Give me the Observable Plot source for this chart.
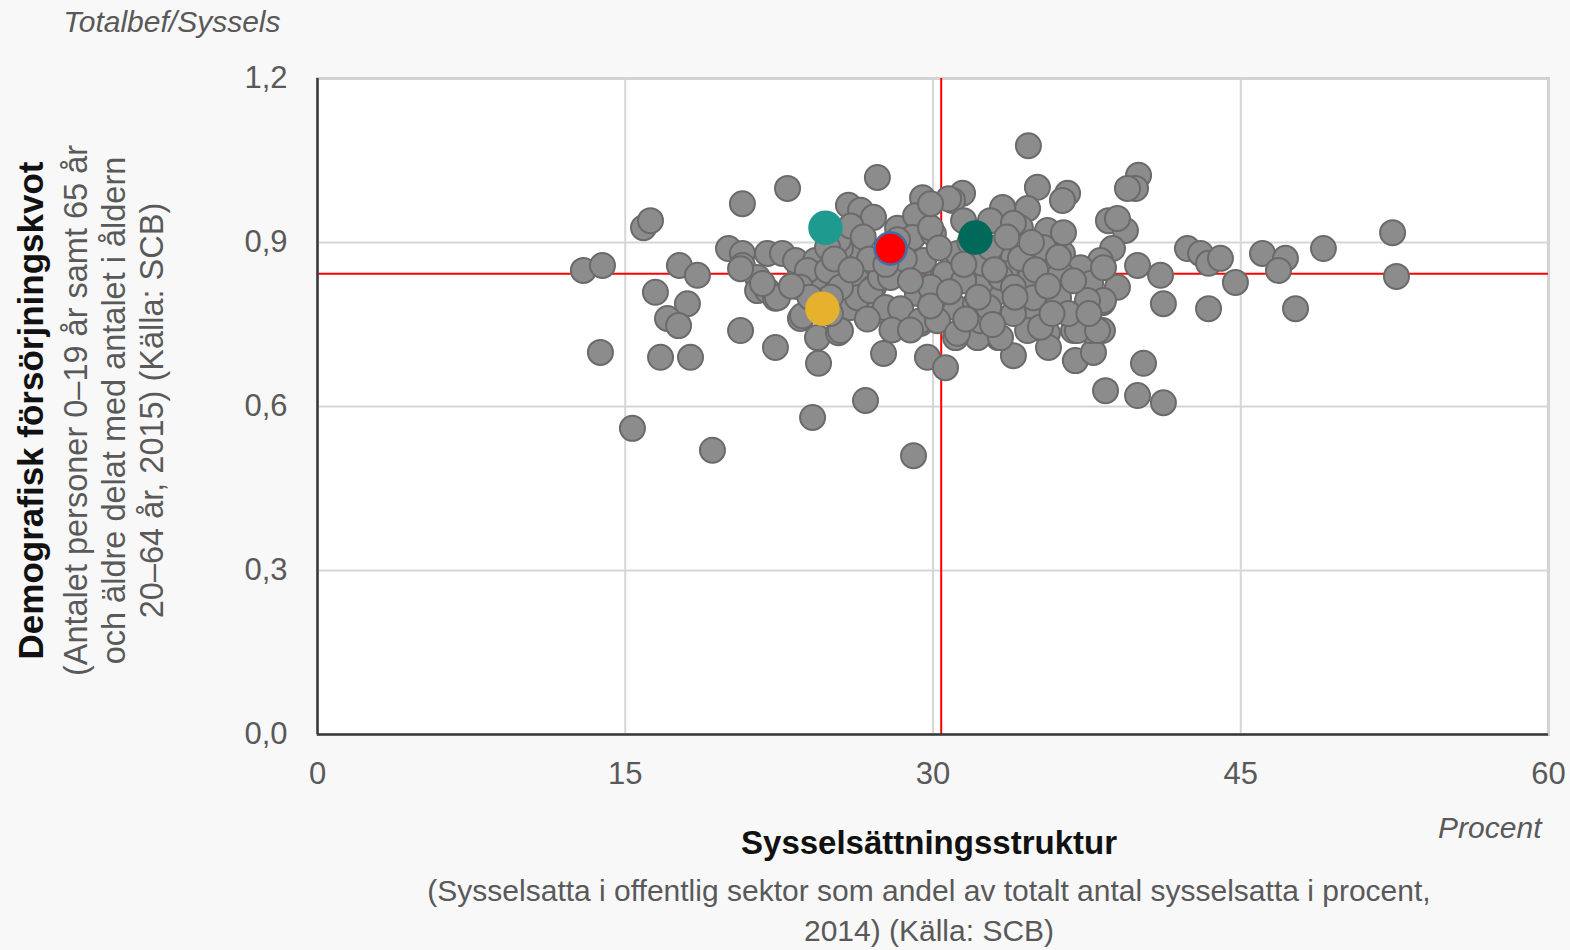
<!DOCTYPE html>
<html><head><meta charset="utf-8">
<script src="https://cdn.jsdelivr.net/npm/d3@7"></script>
<script src="https://cdn.jsdelivr.net/npm/@observablehq/plot@0.6"></script>
<style>
html,body{margin:0;padding:0;background:#f8f8f8;}
#chart{width:1570px;height:950px;}
</style>
</head><body><div id="chart"></div>
<script>
// Municipalities: share employed in public sector (%), demographic dependency ratio
const xValues = [12.96,13.89,13.79,15.35,15.89,16.23,16.47,17.64,18.52,18.03,17.06,17.60,16.72,18.18,19.25,20.71,20.03,20.71,20.71,20.62,21.45,21.45,21.93,22.66,21.93,22.32,22.91,22.32,23.54,24.37,25.39,24.42,24.13,26.71,27.59,27.29,25.88,26.47,23.54,24.18,25.34,25.98,26.32,27.10,27.29,25.49,25.39,23.30,24.27,24.86,23.88,24.86,23.54,22.42,21.69,23.64,25.98,26.32,25.49,25.49,28.27,29.24,28.27,29.54,30.02,26.95,28.27,27.10,29.39,29.73,29.49,29.15,29.05,30.61,34.65,40.02,39.87,35.09,36.56,36.31,31.44,30.95,38.55,39.38,33.44,34.61,42.40,43.04,43.43,44.01,44.74,46.06,47.18,46.84,47.67,49.03,52.40,52.59,41.09,41.23,43.43,40.26,38.41,39.97,41.23,38.75,38.16,39.97,38.99,38.26,36.85,36.12,34.65,34.61,35.58,35.63,33.92,33.19,32.17,31.10,36.94,37.82,38.26,37.68,36.85,27.68,31.10,33.14,32.31,30.51,31.49,35.34,36.31,35.58,34.26,37.19,37.68,36.21,33.92,34.75,33.53,32.31,31.49,29.98,28.42,27.44,29.00,30.02,27.93,29.39,30.22,32.31,33.92,30.76,33.39,32.80,33.92,38.99,39.48,36.36,35.38,36.12,34.26,32.41,30.61,31.49,29.88,33.29,33.92,34.90,38.31,38.31,37.53,36.85,32.07,32.71,31.19,33.29,35.24,37.04,38.02,29.88,29.88,29.88,20.62,28.27,26.0,26.6,25.2,26.9,28.6,28.9,27.7,26.0,25.0,24.0,26.8,28.0,25.0,23.1,31.2,31.8,32.8,33.6,34.8,35.0,32.2,30.8,31.5,30.3,33.0,34.0,35.6,36.6,37.6,35.8,31.6,32.9,28.9];
const yValues = [0.849,0.858,0.699,0.560,0.927,0.940,0.809,0.858,0.840,0.788,0.761,0.748,0.690,0.690,0.520,0.971,0.889,0.880,0.858,0.739,0.836,0.812,0.880,0.880,0.812,0.798,0.999,0.708,0.761,0.726,0.735,0.679,0.580,0.611,0.697,1.019,0.968,0.959,0.849,0.825,0.843,0.880,0.830,0.818,0.776,0.889,0.904,0.867,0.867,0.891,0.849,0.849,0.818,0.799,0.825,0.766,0.781,0.799,0.818,0.739,0.757,0.807,0.849,0.867,0.825,0.812,0.926,0.946,0.752,0.690,0.982,0.949,0.510,0.671,1.077,1.023,0.999,1.001,0.990,0.977,0.990,0.977,0.940,0.922,0.962,0.962,0.889,0.880,0.862,0.871,0.827,0.880,0.871,0.849,0.779,0.889,0.918,0.838,0.840,0.788,0.779,0.679,0.629,0.620,0.607,0.889,0.867,0.858,0.818,0.790,0.836,0.799,0.770,0.739,0.734,0.708,0.693,0.726,0.726,0.726,0.684,0.699,0.739,0.739,0.739,0.781,0.781,0.809,0.858,0.840,0.940,0.880,0.880,0.922,0.927,0.854,0.825,0.843,0.873,0.836,0.843,0.825,0.836,0.794,0.779,0.836,0.909,0.916,0.836,0.757,0.757,0.757,0.770,0.980,0.964,0.940,0.935,0.944,0.999,0.918,0.891,0.873,0.871,0.862,0.843,0.830,0.818,0.836,0.818,0.799,0.854,0.794,0.794,0.830,0.788,0.781,0.734,0.726,0.745,0.739,0.739,0.784,0.927,0.971,0.852,0.905,0.930,0.910,0.870,0.870,0.870,0.830,0.860,0.850,0.800,0.800,0.760,0.740,0.770,0.820,0.880,0.900,0.890,0.910,0.900,0.850,0.800,0.810,0.860,0.890,0.850,0.800,0.820,0.770,0.770,0.770,0.760,0.750,0.740];

// Highlighted municipalities
const specialNames = ["teal","yellow","red","darkgreen"];
const specialX = [24.76, 24.61, 27.93, 32.07];
const specialY = [0.927, 0.779, 0.889, 0.909];
const specialFill = ["#1e9b8e", "#e6b22e", "#ff0000", "#00695a"];
const specialStroke = ["#1e9b8e", "#e6b22e", "#3f6fa6", "#00695a"];

// Reference lines (average values)
const refX = [30.4];
const refY = [0.843];

const xTicks = [0, 15, 30, 45, 60];
const yTicks = [0, 0.3, 0.6, 0.9, 1.2];

const points = xValues.map((x, i) => ({x, y: yValues[i]}));
const special = specialNames.map((n, i) => ({name: n, x: specialX[i], y: specialY[i], fill: specialFill[i], stroke: specialStroke[i]}));

const font = "'Liberation Sans', Arial, sans-serif";
const gray = "#595959";

const chart = Plot.plot({
  width: 1570,
  height: 950,
  marginLeft: 317,
  marginRight: 22,
  marginTop: 78,
  marginBottom: 216,
  style: {background: "transparent", fontFamily: font, overflow: "visible"},
  x: {domain: [0, 60]},
  y: {domain: [0, 1.2]},
  marks: [
    Plot.frame({fill: "white", stroke: "#cccccc", strokeWidth: 3}),
    Plot.gridX(xTicks, {stroke: "#d6d6d6", strokeOpacity: 1, strokeWidth: 2}),
    Plot.gridY(yTicks, {stroke: "#d6d6d6", strokeOpacity: 1, strokeWidth: 2}),
    Plot.ruleX(refX, {stroke: "#ff0000", strokeWidth: 2}),
    Plot.ruleY(refY, {stroke: "#ff0000", strokeWidth: 2}),
    Plot.ruleY([0], {stroke: "#3a3a3a", strokeWidth: 2.5}),
    Plot.ruleX([0], {stroke: "#3a3a3a", strokeWidth: 2.5}),
    Plot.dot(points, {x: "x", y: "y", r: 12.5, fill: "#8c8c8c", stroke: "#6a6a6a", strokeWidth: 2}),
    Plot.dot(special, {x: "x", y: "y", r: 16, fill: d => d.fill, stroke: d => d.stroke, strokeWidth: 2.5}),
    Plot.axisX(xTicks, {tickSize: 0, tickPadding: 27, fontSize: 31, fill: gray, label: null}),
    Plot.axisY(yTicks, {tickSize: 0, tickPadding: 30, fontSize: 31, fill: gray, label: null,
      tickFormat: d => d.toFixed(1).replace(".", ",")}),
    Plot.text(["Totalbef/Syssels"], {frameAnchor: "top-left", dx: -37, dy: -56, textAnchor: "end",
      lineAnchor: "middle", fontSize: 30, fontStyle: "italic", fill: gray}),
    Plot.text(["Procent"], {frameAnchor: "bottom-right", dx: -7, dy: 94, textAnchor: "end",
      lineAnchor: "middle", fontSize: 30, fontStyle: "italic", fill: gray}),
    Plot.text(["Sysselsättningsstruktur"], {frameAnchor: "bottom", dx: -4, dy: 109,
      lineAnchor: "middle", fontSize: 33, fontWeight: "bold", fill: "#111"}),
    Plot.text(["(Sysselsatta i offentlig sektor som andel av totalt antal sysselsatta i procent,\n2014) (Källa: SCB)"],
      {frameAnchor: "bottom", dx: -4, dy: 174, lineAnchor: "middle", lineHeight: 1.33, fontSize: 30, fill: gray}),
    Plot.text(["Demografisk försörjningskvot"], {frameAnchor: "left", dx: -286, dy: 4, rotate: -90,
      textAnchor: "middle", lineAnchor: "middle", fontSize: 35, fontWeight: "bold", fill: "#111"}),
    Plot.text(["(Antalet personer 0–19 år samt 65 år\noch äldre delat med antalet i åldern\n20–64 år, 2015) (Källa: SCB)"],
      {frameAnchor: "left", dx: -205, dy: 4, rotate: -90, textAnchor: "middle", lineAnchor: "middle", lineHeight: 1.17,
       fontSize: 32.5, fill: gray})
  ]
});
document.getElementById("chart").appendChild(chart);
</script>
</body></html>
